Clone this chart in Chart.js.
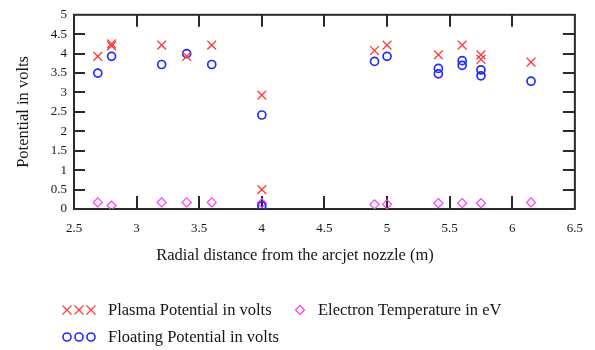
<!DOCTYPE html>
<html>
<head>
<meta charset="utf-8">
<script src="https://cdn.jsdelivr.net/npm/chart.js@4/dist/chart.umd.min.js"></script>
<style>
  html, body { margin: 0; padding: 0; background: #fff; }
</style>
</head>
<body>
<canvas id="chart" width="595" height="350"></canvas>
<script>
// --- Data ---
const plasmaX = [2.69, 2.80, 2.80, 3.20, 3.40, 3.60, 4.00, 4.00, 4.90, 5.00, 5.41, 5.60, 5.75, 5.75, 6.15];
const plasmaY = [3.93, 4.20, 4.25, 4.22, 3.93, 4.22, 2.93, 0.50, 4.08, 4.22, 3.97, 4.22, 3.97, 3.85, 3.78];

const floatX = [2.69, 2.80, 3.20, 3.40, 3.60, 4.00, 4.00, 4.90, 5.00, 5.41, 5.41, 5.60, 5.60, 5.75, 5.75, 6.15];
const floatY = [3.50, 3.93, 3.72, 4.00, 3.72, 2.42, 0.08, 3.80, 3.93, 3.62, 3.48, 3.82, 3.70, 3.58, 3.43, 3.29];

const tempX = [2.69, 2.80, 3.20, 3.40, 3.60, 4.00, 4.90, 5.00, 5.41, 5.60, 5.75, 6.15];
const tempY = [0.17, 0.09, 0.17, 0.17, 0.17, 0.15, 0.12, 0.12, 0.15, 0.15, 0.15, 0.17];

const seriesLabels = ['Plasma Potential in volts', 'Floating Potential in volts', 'Electron Temperature in eV'];
const xTitle = 'Radial distance from the arcjet nozzle (m)';
const yTitle = 'Potential in volts';

const toPoints = (xs, ys) => xs.map((x, i) => ({ x: x, y: ys[i] }));
const plainNum = (v) => String(Math.round(v * 10) / 10);

const RED = '#ff3a3a', BLUE = '#1e2cff', MAGENTA = '#ff38ff';
const SERIF = '"Liberation Serif", "DejaVu Serif", serif';
const INK = '#151515';

// --- Frame with inward ticks on all four sides ---
const framePlugin = {
    id: 'frame',
    beforeDatasetsDraw(chart) {
        const { ctx, chartArea: a, scales } = chart;
        ctx.save();
        ctx.strokeStyle = '#2a2a2a';
        ctx.lineWidth = 2;
        ctx.strokeRect(a.left, a.top, a.right - a.left, a.bottom - a.top);
        ctx.beginPath();
        scales.x.ticks.forEach(t => {
            if (t.value <= scales.x.min || t.value >= scales.x.max) return;
            const px = Math.round(scales.x.getPixelForValue(t.value));
            ctx.moveTo(px, a.bottom); ctx.lineTo(px, a.bottom - 13);
            ctx.moveTo(px, a.top); ctx.lineTo(px, a.top + 12);
        });
        scales.y.ticks.forEach(t => {
            if (t.value <= scales.y.min || t.value >= scales.y.max) return;
            const py = Math.round(scales.y.getPixelForValue(t.value));
            ctx.moveTo(a.left, py); ctx.lineTo(a.left + 11, py);
            ctx.moveTo(a.right, py); ctx.lineTo(a.right - 12, py);
        });
        ctx.stroke();
        ctx.restore();
    }
};

// --- X title and legend below the plot ---
function marker(ctx, style, x, y) {
    ctx.beginPath();
    if (style === 'crossRot') {
        ctx.moveTo(x - 4.5, y - 4.5); ctx.lineTo(x + 4.5, y + 4.5);
        ctx.moveTo(x + 4.5, y - 4.5); ctx.lineTo(x - 4.5, y + 4.5);
    } else if (style === 'circle') {
        ctx.arc(x, y, 4, 0, Math.PI * 2);
    } else {
        ctx.moveTo(x - 4.5, y); ctx.lineTo(x, y - 4.5);
        ctx.lineTo(x + 4.5, y); ctx.lineTo(x, y + 4.5); ctx.closePath();
    }
    ctx.stroke();
}

const legendPlugin = {
    id: 'bottomText',
    afterDraw(chart) {
        const ctx = chart.ctx;
        ctx.save();
        ctx.fillStyle = INK;
        ctx.font = '16.5px ' + SERIF;
        ctx.textBaseline = 'middle';
        ctx.textAlign = 'center';
        ctx.fillText(xTitle, 295, 256);

        ctx.textAlign = 'left';
        const slots = [
            { marks: [67, 79, 91], tx: 108, y: 310 },
            { marks: [67, 79, 91], tx: 108, y: 337 },
            { marks: [300], tx: 318, y: 310 }
        ];
        chart.data.datasets.forEach((ds, i) => {
            const s = slots[i];
            ctx.strokeStyle = ds.borderColor;
            ctx.lineWidth = ds.pointStyle === 'circle' ? 1.6 : 1.2;
            s.marks.forEach(mx => marker(ctx, ds.pointStyle, mx, s.y));
            ctx.fillStyle = INK;
            ctx.fillText(ds.label, s.tx, s.y + 1);
        });
        ctx.restore();
    }
};

new Chart(document.getElementById('chart'), {
    type: 'scatter',
    data: {
        datasets: [
            {
                label: seriesLabels[0],
                data: toPoints(plasmaX, plasmaY),
                pointStyle: 'crossRot',
                pointRadius: 6.2,
                pointBorderWidth: 1.3,
                borderColor: RED,
                backgroundColor: RED
            },
            {
                label: seriesLabels[1],
                data: toPoints(floatX, floatY),
                pointStyle: 'circle',
                pointRadius: 4,
                pointBorderWidth: 1.7,
                borderColor: BLUE,
                backgroundColor: 'rgba(0,0,0,0)'
            },
            {
                label: seriesLabels[2],
                data: toPoints(tempX, tempY),
                pointStyle: 'rectRot',
                pointRadius: 4.5,
                pointBorderWidth: 1.2,
                borderColor: MAGENTA,
                backgroundColor: 'rgba(0,0,0,0)'
            }
        ]
    },
    options: {
        responsive: false,
        animation: false,
        layout: { padding: { left: 0, top: 11, right: 20, bottom: 0 } },
        plugins: {
            legend: { display: false },
            tooltip: { enabled: false }
        },
        scales: {
            x: {
                type: 'linear',
                min: 2.5,
                max: 6.5,
                grid: { display: false, drawTicks: false },
                border: { display: false },
                ticks: {
                    stepSize: 0.5,
                    padding: 12,
                    color: INK,
                    font: { family: SERIF, size: 13 },
                    maxRotation: 0,
                    callback: plainNum
                },
                afterFit: (scale) => { scale.height = 141; }
            },
            y: {
                min: 0,
                max: 5,
                grid: { display: false, drawTicks: false },
                border: { display: false },
                ticks: {
                    stepSize: 0.5,
                    padding: 7,
                    color: INK,
                    font: { family: SERIF, size: 13 },
                    callback: plainNum
                },
                title: {
                    display: true,
                    text: yTitle,
                    color: INK,
                    font: { family: SERIF, size: 16.5 },
                    padding: { top: 14, bottom: 0 }
                },
                afterFit: (scale) => { scale.width = 74; }
            }
        }
    },
    plugins: [framePlugin, legendPlugin]
});
</script>
</body>
</html>
